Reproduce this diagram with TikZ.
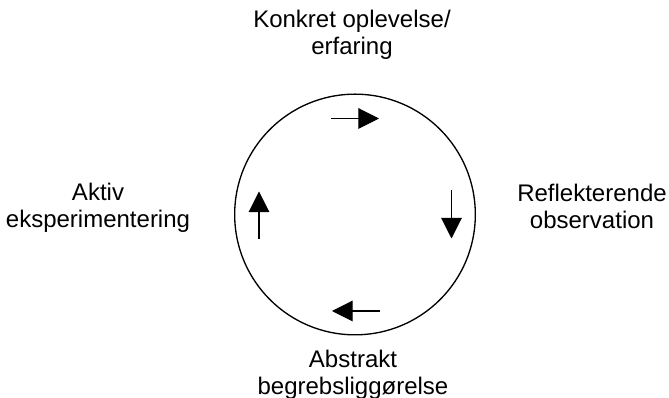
\documentclass[tikz,border=0pt]{standalone}
\usepackage{fontspec}
\setmainfont{Liberation Sans}
\usetikzlibrary{arrows.meta}
\begin{document}
\begin{tikzpicture}[x=0.75pt,y=-0.75pt,
  lbl/.style={align=center,font=\fontsize{18}{20.25}\selectfont,inner sep=0pt},
  cyc/.style={line width=0.8pt,-{Triangle[length=15.5pt,width=15.5pt]}},
  ring/.style={draw,circle,line width=1pt,minimum size=180.5pt,inner sep=0pt}]
\useasboundingbox (0,0) rectangle (669,398);
\node[ring] (c) at (355,214.5) {};
\node[lbl] (top) at (352,35) {Konkret oplevelse/\\erfaring};
\node[lbl] (left) at (98,208) {Aktiv\\eksperimentering};
\node[lbl] (right) at (592,206) {Reflekterende\\observation};
\node[lbl] (bot) at (353,375) {Abstrakt\\begrebsliggørelse};
\coordinate (t1) at (331,118.5);
\coordinate (t2) at (379,118.5);
\coordinate (r1) at (451.5,190);
\coordinate (r2) at (451.5,238.5);
\coordinate (b1) at (380,311);
\coordinate (b2) at (332,311);
\coordinate (l1) at (259,239.5);
\coordinate (l2) at (259,191.5);
\draw[cyc] (t1) -- (t2);
\draw[cyc] (r1) -- (r2);
\draw[cyc] (b1) -- (b2);
\draw[cyc] (l1) -- (l2);
\end{tikzpicture}
\end{document}
